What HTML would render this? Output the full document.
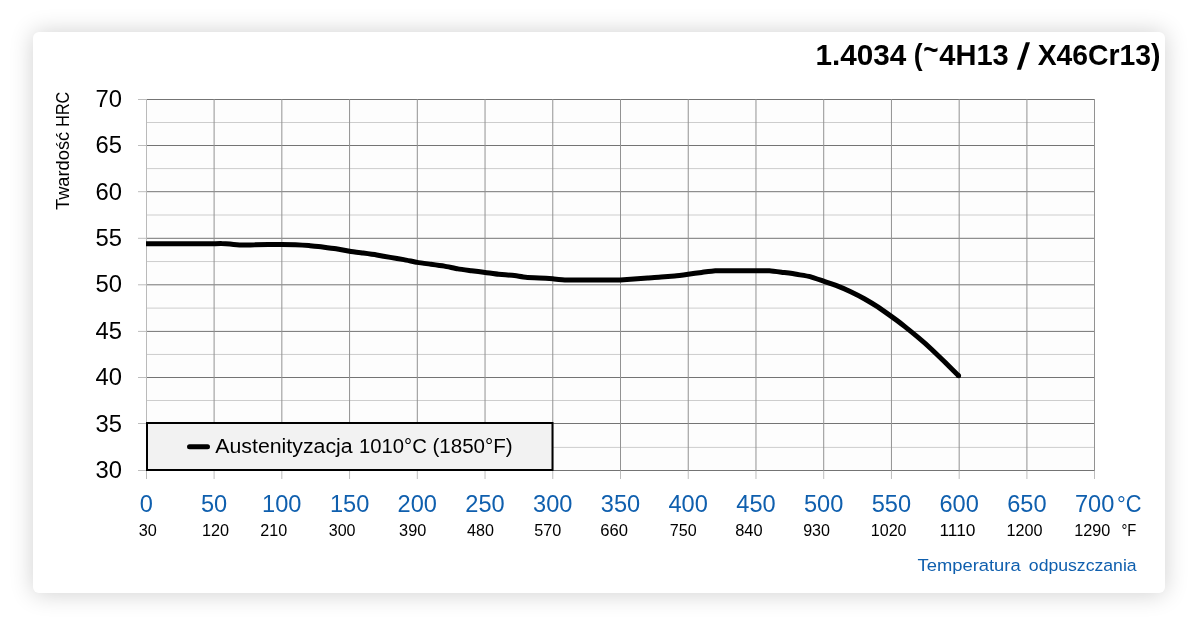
<!DOCTYPE html>
<html lang="pl"><head><meta charset="utf-8">
<title>1.4034 (~4H13 / X46Cr13)</title>
<style>
html,body{margin:0;padding:0;background:#fff;}
body{width:1200px;height:631px;position:relative;overflow:hidden;font-family:"Liberation Sans",sans-serif;}
.card{position:absolute;left:33px;top:32px;width:1132px;height:561px;background:#fff;border-radius:6px;box-shadow:0 .5px 23px rgba(0,0,0,.19);}
svg{position:absolute;left:0;top:0;will-change:transform;}
text{font-family:"Liberation Sans",sans-serif;}
</style></head><body>
<div class="card"></div>
<svg width="1200" height="631" viewBox="0 0 1200 631">
<rect x="146" y="99" width="949" height="372" fill="#fdfdfd"/>
<g stroke-width="1">
<line x1="146" x2="1095" y1="122.5" y2="122.5" stroke="#cdcdcd"/>
<line x1="146" x2="1095" y1="168.6" y2="168.6" stroke="#cdcdcd"/>
<line x1="146" x2="1095" y1="215.0" y2="215.0" stroke="#cdcdcd"/>
<line x1="146" x2="1095" y1="261.55" y2="261.55" stroke="#cdcdcd"/>
<line x1="146" x2="1095" y1="308.1" y2="308.1" stroke="#cdcdcd"/>
<line x1="146" x2="1095" y1="354.45" y2="354.45" stroke="#cdcdcd"/>
<line x1="146" x2="1095" y1="400.5" y2="400.5" stroke="#cdcdcd"/>
<line x1="146" x2="1095" y1="447.4" y2="447.4" stroke="#cdcdcd"/>
<line x1="146" x2="1095" y1="99.5" y2="99.5" stroke="#747474"/>
<line x1="138" x2="146" y1="99.5" y2="99.5" stroke="#bdbdbd"/>
<line x1="146" x2="1095" y1="145.5" y2="145.5" stroke="#747474"/>
<line x1="138" x2="146" y1="145.5" y2="145.5" stroke="#bdbdbd"/>
<line x1="146" x2="1095" y1="191.7" y2="191.7" stroke="#747474"/>
<line x1="138" x2="146" y1="191.7" y2="191.7" stroke="#bdbdbd"/>
<line x1="146" x2="1095" y1="238.3" y2="238.3" stroke="#747474"/>
<line x1="138" x2="146" y1="238.3" y2="238.3" stroke="#bdbdbd"/>
<line x1="146" x2="1095" y1="284.8" y2="284.8" stroke="#747474"/>
<line x1="138" x2="146" y1="284.8" y2="284.8" stroke="#bdbdbd"/>
<line x1="146" x2="1095" y1="331.4" y2="331.4" stroke="#747474"/>
<line x1="138" x2="146" y1="331.4" y2="331.4" stroke="#bdbdbd"/>
<line x1="146" x2="1095" y1="377.5" y2="377.5" stroke="#747474"/>
<line x1="138" x2="146" y1="377.5" y2="377.5" stroke="#bdbdbd"/>
<line x1="146" x2="1095" y1="423.5" y2="423.5" stroke="#747474"/>
<line x1="138" x2="146" y1="423.5" y2="423.5" stroke="#bdbdbd"/>
<line x1="146" x2="1095" y1="470.5" y2="470.5" stroke="#747474"/>
<line x1="138" x2="146" y1="470.5" y2="470.5" stroke="#bdbdbd"/>
</g>
<g stroke-width="1">
<line x1="146.5" x2="146.5" y1="99" y2="479" stroke="#bababa"/>
<line x1="214.10" x2="214.10" y1="99" y2="471" stroke="#929292"/>
<line x1="214.10" x2="214.10" y1="471" y2="479" stroke="#bdbdbd"/>
<line x1="281.84" x2="281.84" y1="99" y2="471" stroke="#929292"/>
<line x1="281.84" x2="281.84" y1="471" y2="479" stroke="#bdbdbd"/>
<line x1="349.57" x2="349.57" y1="99" y2="471" stroke="#929292"/>
<line x1="349.57" x2="349.57" y1="471" y2="479" stroke="#bdbdbd"/>
<line x1="417.31" x2="417.31" y1="99" y2="471" stroke="#929292"/>
<line x1="417.31" x2="417.31" y1="471" y2="479" stroke="#bdbdbd"/>
<line x1="485.04" x2="485.04" y1="99" y2="471" stroke="#929292"/>
<line x1="485.04" x2="485.04" y1="471" y2="479" stroke="#bdbdbd"/>
<line x1="552.78" x2="552.78" y1="99" y2="471" stroke="#929292"/>
<line x1="552.78" x2="552.78" y1="471" y2="479" stroke="#bdbdbd"/>
<line x1="620.51" x2="620.51" y1="99" y2="471" stroke="#929292"/>
<line x1="620.51" x2="620.51" y1="471" y2="479" stroke="#bdbdbd"/>
<line x1="688.24" x2="688.24" y1="99" y2="471" stroke="#929292"/>
<line x1="688.24" x2="688.24" y1="471" y2="479" stroke="#bdbdbd"/>
<line x1="755.98" x2="755.98" y1="99" y2="471" stroke="#929292"/>
<line x1="755.98" x2="755.98" y1="471" y2="479" stroke="#bdbdbd"/>
<line x1="823.71" x2="823.71" y1="99" y2="471" stroke="#929292"/>
<line x1="823.71" x2="823.71" y1="471" y2="479" stroke="#bdbdbd"/>
<line x1="891.45" x2="891.45" y1="99" y2="471" stroke="#929292"/>
<line x1="891.45" x2="891.45" y1="471" y2="479" stroke="#bdbdbd"/>
<line x1="959.18" x2="959.18" y1="99" y2="471" stroke="#929292"/>
<line x1="959.18" x2="959.18" y1="471" y2="479" stroke="#bdbdbd"/>
<line x1="1026.92" x2="1026.92" y1="99" y2="471" stroke="#929292"/>
<line x1="1026.92" x2="1026.92" y1="471" y2="479" stroke="#bdbdbd"/>
<line x1="1094.50" x2="1094.50" y1="99" y2="471" stroke="#929292"/>
<line x1="1094.50" x2="1094.50" y1="471" y2="479" stroke="#bdbdbd"/>
</g>
<path d="M146.0,243.8C147.2,243.8 157.7,243.8 160.0,243.8C162.3,243.8 171.3,243.8 173.6,243.8C175.9,243.8 184.8,243.8 187.1,243.8C189.4,243.8 198.6,243.8 200.7,243.8C202.8,243.8 210.3,243.8 212.0,243.8C213.7,243.8 220.0,243.5 221.5,243.6C223.0,243.6 228.3,243.8 230.0,243.9C231.7,244.1 239.7,244.9 241.8,245.0C243.9,245.1 252.6,244.8 254.8,244.8C257.0,244.7 266.1,244.6 268.4,244.6C270.7,244.6 279.6,244.6 281.9,244.6C284.2,244.6 293.2,244.6 295.5,244.7C297.8,244.8 306.8,245.4 309.0,245.6C311.2,245.8 320.2,246.6 322.5,246.9C324.8,247.2 333.8,248.4 336.1,248.8C338.4,249.2 347.3,250.9 349.6,251.3C351.9,251.7 360.9,252.8 363.2,253.1C365.5,253.4 374.4,254.6 376.7,255.0C379.0,255.4 388.0,257.0 390.3,257.4C392.6,257.8 401.6,259.2 403.8,259.6C406.1,260.0 415.0,262.0 417.3,262.4C419.6,262.8 428.6,263.9 430.9,264.2C433.2,264.5 442.1,265.7 444.4,266.1C446.7,266.5 455.7,268.5 458.0,268.9C460.3,269.3 469.2,270.4 471.5,270.7C473.8,271.0 482.8,272.1 485.1,272.4C487.4,272.7 496.4,274.1 498.6,274.3C500.9,274.5 509.8,275.1 512.1,275.3C514.4,275.5 523.4,277.0 525.7,277.2C528.0,277.4 536.9,277.8 539.2,277.9C541.5,278.0 550.5,278.6 552.8,278.8C555.1,279.0 564.0,279.8 566.3,279.9C568.6,280.0 577.6,279.9 579.9,279.9C582.2,279.9 591.1,279.9 593.4,279.9C595.6,279.9 604.6,279.9 606.9,279.9C609.2,279.9 618.2,280.0 620.5,279.9C622.8,279.8 631.7,279.2 634.0,279.0C636.3,278.8 645.3,278.2 647.6,278.0C649.9,277.8 658.8,277.3 661.1,277.1C663.4,276.9 672.4,276.2 674.7,276.0C677.0,275.8 686.0,274.6 688.2,274.3C690.5,274.0 699.4,272.7 701.7,272.4C704.0,272.1 713.0,270.8 715.3,270.7C717.6,270.6 726.5,270.7 728.8,270.7C731.1,270.7 740.1,270.7 742.4,270.7C744.7,270.7 753.6,270.7 755.9,270.7C758.2,270.7 767.2,270.6 769.5,270.7C771.8,270.8 780.8,272.1 783.0,272.4C785.2,272.7 794.2,273.9 796.5,274.3C798.8,274.7 807.8,276.0 810.1,276.6C812.4,277.2 821.3,280.4 823.6,281.2C825.9,282.0 834.9,285.0 837.2,285.9C839.5,286.8 848.4,290.6 850.7,291.7C853.0,292.8 862.0,297.4 864.3,298.7C866.6,300.0 875.5,305.4 877.8,306.9C880.0,308.4 889.0,314.8 891.3,316.4C893.6,318.0 902.6,324.8 904.9,326.6C907.2,328.4 916.1,335.7 918.4,337.6C920.7,339.5 929.8,347.6 932.0,349.7C934.2,351.8 943.1,360.3 945.3,362.5C947.5,364.7 957.5,374.6 958.6,375.7" fill="none" stroke="#000" stroke-width="5" stroke-linejoin="round" stroke-linecap="butt"/>
<circle cx="958.6" cy="375.7" r="2.5" fill="#000"/>
<rect x="147" y="423" width="405.5" height="47" fill="#f2f2f2" stroke="#000" stroke-width="2"/>
<line x1="189.5" x2="207.5" y1="446.8" y2="446.8" stroke="#000" stroke-width="5" stroke-linecap="round"/>
<text x="815.47" y="65.4" font-size="29.2" fill="#000" font-weight="bold" textLength="90.82" lengthAdjust="spacingAndGlyphs">1.4034</text>
<text x="913.64" y="65.4" font-size="29.2" fill="#000" font-weight="bold" textLength="8.88" lengthAdjust="spacingAndGlyphs">(</text>
<text x="923.25" y="60.2" font-size="29.2" fill="#000" font-weight="bold" textLength="15.24" lengthAdjust="spacingAndGlyphs">~</text>
<text x="939.31" y="65.4" font-size="29.2" fill="#000" font-weight="bold" textLength="69.41" lengthAdjust="spacingAndGlyphs">4H13</text>
<text x="1037.68" y="65.4" font-size="29.2" fill="#000" font-weight="bold" textLength="122.85" lengthAdjust="spacingAndGlyphs">X46Cr13)</text>
<text x="215.32" y="453.4" font-size="20.0" fill="#000" textLength="137.3" lengthAdjust="spacingAndGlyphs">Austenityzacja</text>
<text x="359.04" y="453.4" font-size="20.0" fill="#000" textLength="67.8" lengthAdjust="spacingAndGlyphs">1010°C</text>
<text x="432.4" y="453.4" font-size="20.0" fill="#000" textLength="80.34" lengthAdjust="spacingAndGlyphs">(1850°F)</text>
<text x="917.57" y="571.0" font-size="17.4" fill="#0f5fae" textLength="103.09" lengthAdjust="spacingAndGlyphs">Temperatura</text>
<text x="1028.83" y="571.0" font-size="17.4" fill="#0f5fae" textLength="107.79" lengthAdjust="spacingAndGlyphs">odpuszczania</text>
<text x="1116.9" y="512.3" font-size="23.6" fill="#0f5fae" textLength="24.55" lengthAdjust="spacingAndGlyphs">°C</text>
<text x="1121.43" y="536.4" font-size="16.0" fill="#000" textLength="14.87" lengthAdjust="spacingAndGlyphs">°F</text>
<text x="138.68" y="536.4" font-size="16.0" fill="#000" textLength="18.1" lengthAdjust="spacingAndGlyphs">30</text>
<text x="202.04" y="536.4" font-size="16.0" fill="#000" textLength="27.09" lengthAdjust="spacingAndGlyphs">120</text>
<text x="260.38" y="536.4" font-size="16.0" fill="#000" textLength="26.95" lengthAdjust="spacingAndGlyphs">210</text>
<text x="328.69" y="536.4" font-size="16.0" fill="#000" textLength="26.84" lengthAdjust="spacingAndGlyphs">300</text>
<text x="399.08" y="536.4" font-size="16.0" fill="#000" textLength="27.16" lengthAdjust="spacingAndGlyphs">390</text>
<text x="467.11" y="536.4" font-size="16.0" fill="#000" textLength="26.92" lengthAdjust="spacingAndGlyphs">480</text>
<text x="534.19" y="536.4" font-size="16.0" fill="#000" textLength="27.05" lengthAdjust="spacingAndGlyphs">570</text>
<text x="600.26" y="536.4" font-size="16.0" fill="#000" textLength="27.69" lengthAdjust="spacingAndGlyphs">660</text>
<text x="669.87" y="536.4" font-size="16.0" fill="#000" textLength="26.86" lengthAdjust="spacingAndGlyphs">750</text>
<text x="735.24" y="536.4" font-size="16.0" fill="#000" textLength="27.41" lengthAdjust="spacingAndGlyphs">840</text>
<text x="803.18" y="536.4" font-size="16.0" fill="#000" textLength="26.85" lengthAdjust="spacingAndGlyphs">930</text>
<text x="870.75" y="536.4" font-size="16.0" fill="#000" textLength="35.77" lengthAdjust="spacingAndGlyphs">1020</text>
<text x="939.46" y="536.4" font-size="16.0" fill="#000" textLength="36.05" lengthAdjust="spacingAndGlyphs">1110</text>
<text x="1006.54" y="536.4" font-size="16.0" fill="#000" textLength="36.08" lengthAdjust="spacingAndGlyphs">1200</text>
<text x="1074.24" y="536.4" font-size="16.0" fill="#000" textLength="36.08" lengthAdjust="spacingAndGlyphs">1290</text>
<text transform="translate(69.3,210.03) rotate(-90)" font-size="18.0" fill="#000" textLength="78.30" lengthAdjust="spacingAndGlyphs">Twardość</text>
<text transform="translate(69.3,126.74) rotate(-90)" font-size="18.0" fill="#000" textLength="35.00" lengthAdjust="spacingAndGlyphs">HRC</text>
<polygon points="1016.8,69.75 1021.0,69.75 1030.0,42.3 1025.8,42.3" fill="#000"/>
<text x="122.0" y="106.9" font-size="23.8" fill="#000" text-anchor="end">70</text>
<text x="122.0" y="153.3" font-size="23.8" fill="#000" text-anchor="end">65</text>
<text x="122.0" y="199.7" font-size="23.8" fill="#000" text-anchor="end">60</text>
<text x="122.0" y="246.0" font-size="23.8" fill="#000" text-anchor="end">55</text>
<text x="122.0" y="292.4" font-size="23.8" fill="#000" text-anchor="end">50</text>
<text x="122.0" y="338.8" font-size="23.8" fill="#000" text-anchor="end">45</text>
<text x="122.0" y="385.1" font-size="23.8" fill="#000" text-anchor="end">40</text>
<text x="122.0" y="431.5" font-size="23.8" fill="#000" text-anchor="end">35</text>
<text x="122.0" y="477.9" font-size="23.8" fill="#000" text-anchor="end">30</text>
<text x="146.4" y="512.3" font-size="23.6" fill="#0f5fae" text-anchor="middle">0</text>
<text x="214.1" y="512.3" font-size="23.6" fill="#0f5fae" text-anchor="middle">50</text>
<text x="281.8" y="512.3" font-size="23.6" fill="#0f5fae" text-anchor="middle">100</text>
<text x="349.6" y="512.3" font-size="23.6" fill="#0f5fae" text-anchor="middle">150</text>
<text x="417.3" y="512.3" font-size="23.6" fill="#0f5fae" text-anchor="middle">200</text>
<text x="485.0" y="512.3" font-size="23.6" fill="#0f5fae" text-anchor="middle">250</text>
<text x="552.8" y="512.3" font-size="23.6" fill="#0f5fae" text-anchor="middle">300</text>
<text x="620.5" y="512.3" font-size="23.6" fill="#0f5fae" text-anchor="middle">350</text>
<text x="688.2" y="512.3" font-size="23.6" fill="#0f5fae" text-anchor="middle">400</text>
<text x="756.0" y="512.3" font-size="23.6" fill="#0f5fae" text-anchor="middle">450</text>
<text x="823.7" y="512.3" font-size="23.6" fill="#0f5fae" text-anchor="middle">500</text>
<text x="891.4" y="512.3" font-size="23.6" fill="#0f5fae" text-anchor="middle">550</text>
<text x="959.2" y="512.3" font-size="23.6" fill="#0f5fae" text-anchor="middle">600</text>
<text x="1026.9" y="512.3" font-size="23.6" fill="#0f5fae" text-anchor="middle">650</text>
<text x="1094.7" y="512.3" font-size="23.6" fill="#0f5fae" text-anchor="middle">700</text>
</svg>
</body></html>
